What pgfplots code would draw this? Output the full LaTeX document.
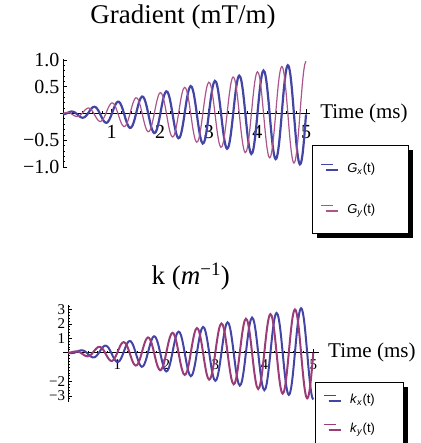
\documentclass[border=0pt]{standalone}
\usepackage{fontspec}
\setmainfont{Liberation Serif}
\setsansfont{Liberation Sans}
\usepackage{pgfplots}
\pgfplotsset{compat=1.18}
\usepackage{pgfplotstable}
\usetikzlibrary{shadows}

\definecolor{gxblue}{RGB}{68,68,165}
\definecolor{gypink}{RGB}{170,85,140}
\definecolor{kypink}{RGB}{155,60,120}

% Spiral readout: k-space trajectory (1/m) and gradient waveforms (mT/m) vs time (ms)
\pgfplotstableread{
t kx ky gx gy
0.000 0 0 -0.016 0
0.025 -0.02 0.01 -0.013 0.009
0.050 -0.03 0.02 -0.007 0.017
0.075 -0.03 0.04 0.003 0.021
0.100 -0.02 0.06 0.014 0.021
0.125 0 0.08 0.024 0.016
0.150 0.03 0.09 0.033 0.006
0.175 0.07 0.09 0.037 -0.008
0.200 0.11 0.08 0.035 -0.023
0.225 0.14 0.05 0.028 -0.037
0.250 0.16 0 0.016 -0.049
0.275 0.17 -0.06 -0.002 -0.056
0.300 0.16 -0.11 -0.022 -0.056
0.325 0.12 -0.17 -0.042 -0.050
0.350 0.07 -0.22 -0.060 -0.036
0.375 0 -0.24 -0.073 -0.016
0.400 -0.08 -0.25 -0.079 0.009
0.425 -0.16 -0.22 -0.076 0.036
0.450 -0.24 -0.17 -0.064 0.062
0.475 -0.29 -0.10 -0.043 0.083
0.500 -0.33 0 -0.016 0.098
0.525 -0.32 0.11 0.017 0.102
0.550 -0.29 0.21 0.051 0.096
0.575 -0.22 0.30 0.082 0.078
0.600 -0.12 0.37 0.107 0.051
0.625 0 0.41 0.122 0.016
0.650 0.13 0.40 0.125 -0.025
0.675 0.26 0.35 0.116 -0.065
0.700 0.37 0.27 0.093 -0.101
0.725 0.45 0.15 0.058 -0.130
0.750 0.49 0 0.016 -0.146
0.775 0.48 -0.16 -0.032 -0.149
0.800 0.42 -0.31 -0.079 -0.135
0.825 0.32 -0.43 -0.121 -0.107
0.850 0.17 -0.53 -0.153 -0.066
0.875 0 -0.57 -0.171 -0.016
0.900 -0.18 -0.56 -0.172 0.040
0.925 -0.35 -0.49 -0.155 0.094
0.950 -0.50 -0.36 -0.121 0.141
0.975 -0.60 -0.20 -0.073 0.176
1.000 -0.65 0 -0.016 0.195
1.025 -0.63 0.21 0.047 0.195
1.050 -0.55 0.40 0.108 0.175
1.075 -0.41 0.57 0.161 0.136
1.100 -0.22 0.68 0.199 0.081
1.125 0 0.73 0.219 0.016
1.150 0.23 0.71 0.218 -0.055
1.175 0.45 0.62 0.195 -0.122
1.200 0.63 0.46 0.150 -0.180
1.225 0.76 0.25 0.089 -0.222
1.250 0.81 0 0.016 -0.244
1.275 0.79 -0.26 -0.062 -0.241
1.300 0.68 -0.50 -0.137 -0.214
1.325 0.51 -0.70 -0.200 -0.164
1.350 0.27 -0.83 -0.246 -0.096
1.375 0 -0.89 -0.268 -0.016
1.400 -0.28 -0.87 -0.264 0.070
1.425 -0.54 -0.75 -0.234 0.151
1.450 -0.76 -0.55 -0.179 0.220
1.475 -0.91 -0.30 -0.104 0.269
1.500 -0.98 0 -0.016 0.293
1.525 -0.94 0.31 0.077 0.288
1.550 -0.82 0.59 0.165 0.254
1.575 -0.60 0.83 0.239 0.193
1.600 -0.32 0.99 0.292 0.111
1.625 0 1.06 0.317 0.016
1.650 0.33 1.02 0.311 -0.085
1.675 0.64 0.88 0.273 -0.180
1.700 0.89 0.65 0.207 -0.259
1.725 1.07 0.35 0.119 -0.315
1.750 1.14 0 0.016 -0.341
1.775 1.10 -0.36 -0.092 -0.334
1.800 0.95 -0.69 -0.194 -0.293
1.825 0.70 -0.96 -0.279 -0.222
1.850 0.37 -1.14 -0.338 -0.126
1.875 0 -1.22 -0.366 -0.016
1.900 -0.38 -1.17 -0.357 0.100
1.925 -0.74 -1.01 -0.313 0.208
1.950 -1.03 -0.75 -0.236 0.299
1.975 -1.22 -0.40 -0.134 0.362
2.000 -1.30 0 -0.016 0.390
2.025 -1.25 0.41 0.107 0.380
2.050 -1.08 0.78 0.223 0.333
2.075 -0.79 1.09 0.318 0.250
2.100 -0.42 1.30 0.385 0.141
2.125 0 1.38 0.414 0.016
2.150 0.43 1.33 0.404 -0.115
2.175 0.83 1.14 0.352 -0.237
2.200 1.16 0.84 0.265 -0.338
2.225 1.38 0.45 0.149 -0.408
2.250 1.46 0 0.016 -0.439
2.275 1.41 -0.46 -0.122 -0.427
2.300 1.21 -0.88 -0.251 -0.372
2.325 0.89 -1.22 -0.358 -0.279
2.350 0.47 -1.45 -0.431 -0.156
2.375 0 -1.54 -0.463 -0.016
2.400 -0.48 -1.48 -0.450 0.130
2.425 -0.93 -1.28 -0.392 0.266
2.450 -1.29 -0.94 -0.293 0.377
2.475 -1.53 -0.50 -0.164 0.454
2.500 -1.63 0 -0.016 0.488
2.525 -1.56 0.51 0.137 0.473
2.550 -1.34 0.97 0.280 0.411
2.575 -0.98 1.35 0.397 0.308
2.600 -0.52 1.61 0.477 0.171
2.625 0 1.71 0.512 0.016
2.650 0.53 1.64 0.496 -0.145
2.675 1.02 1.41 0.431 -0.294
2.700 1.42 1.03 0.322 -0.417
2.725 1.68 0.55 0.179 -0.501
2.750 1.79 0 0.016 -0.536
2.775 1.72 -0.56 -0.153 -0.520
2.800 1.47 -1.07 -0.308 -0.451
2.825 1.08 -1.49 -0.437 -0.336
2.850 0.57 -1.76 -0.524 -0.186
2.875 0 -1.87 -0.561 -0.016
2.900 -0.58 -1.79 -0.543 0.160
2.925 -1.12 -1.54 -0.471 0.323
2.950 -1.55 -1.13 -0.351 0.456
2.975 -1.84 -0.60 -0.194 0.547
3.000 -1.95 0 -0.016 0.585
3.025 -1.87 0.61 0.168 0.566
3.050 -1.60 1.17 0.337 0.490
3.075 -1.17 1.62 0.476 0.365
3.100 -0.62 1.92 0.570 0.202
3.125 0 2.03 0.609 0.016
3.150 0.63 1.95 0.589 -0.175
3.175 1.21 1.67 0.510 -0.351
3.200 1.68 1.22 0.379 -0.496
3.225 1.99 0.65 0.209 -0.593
3.250 2.11 0 0.016 -0.634
3.275 2.02 -0.66 -0.183 -0.612
3.300 1.74 -1.26 -0.366 -0.530
3.325 1.27 -1.75 -0.515 -0.394
3.350 0.67 -2.07 -0.617 -0.217
3.375 0 -2.19 -0.658 -0.016
3.400 -0.68 -2.10 -0.635 0.190
3.425 -1.31 -1.80 -0.549 0.380
3.450 -1.81 -1.32 -0.408 0.535
3.475 -2.15 -0.70 -0.224 0.640
3.500 -2.28 0 -0.016 0.683
3.525 -2.18 0.71 0.198 0.659
3.550 -1.87 1.36 0.394 0.569
3.575 -1.37 1.88 0.555 0.422
3.600 -0.72 2.23 0.663 0.232
3.625 0 2.36 0.707 0.016
3.650 0.73 2.26 0.682 -0.205
3.675 1.40 1.93 0.589 -0.409
3.700 1.95 1.41 0.437 -0.575
3.725 2.30 0.75 0.239 -0.686
3.750 2.44 0 0.016 -0.731
3.775 2.33 -0.76 -0.213 -0.705
3.800 2.00 -1.45 -0.423 -0.609
3.825 1.46 -2.01 -0.594 -0.451
3.850 0.77 -2.38 -0.709 -0.247
3.875 0 -2.52 -0.756 -0.016
3.900 -0.78 -2.41 -0.728 0.220
3.925 -1.50 -2.06 -0.628 0.437
3.950 -2.08 -1.51 -0.465 0.614
3.975 -2.46 -0.80 -0.254 0.732
4.000 -2.60 0 -0.016 0.780
4.025 -2.49 0.81 0.228 0.751
4.050 -2.13 1.55 0.452 0.648
4.075 -1.56 2.14 0.634 0.480
4.100 -0.82 2.53 0.756 0.262
4.125 0 2.68 0.804 0.016
4.150 0.83 2.57 0.775 -0.235
4.175 1.60 2.20 0.668 -0.466
4.200 2.21 1.60 0.494 -0.654
4.225 2.61 0.85 0.269 -0.779
4.250 2.76 0 0.016 -0.829
4.275 2.64 -0.86 -0.243 -0.798
4.300 2.26 -1.64 -0.480 -0.688
4.325 1.65 -2.27 -0.673 -0.508
4.350 0.87 -2.69 -0.802 -0.277
4.375 0 -2.84 -0.853 -0.016
4.400 -0.88 -2.72 -0.821 0.250
4.425 -1.69 -2.33 -0.707 0.495
4.450 -2.34 -1.70 -0.523 0.693
4.475 -2.77 -0.90 -0.284 0.825
4.500 -2.93 0 -0.016 0.878
4.525 -2.80 0.91 0.258 0.844
4.550 -2.39 1.74 0.509 0.727
4.575 -1.75 2.41 0.713 0.537
4.600 -0.92 2.84 0.848 0.292
4.625 0 3.01 0.902 0.016
4.650 0.93 2.87 0.867 -0.266
4.675 1.79 2.46 0.747 -0.523
4.700 2.47 1.80 0.551 -0.732
4.725 2.92 0.95 0.299 -0.872
4.750 3.09 0 0.016 -0.926
4.775 2.95 -0.96 -0.273 -0.890
4.800 2.52 -1.83 -0.538 -0.766
4.825 1.84 -2.54 -0.752 -0.566
4.850 0.97 -3.00 -0.895 -0.307
4.875 0 -3.17 -0.951 -0.016
4.900 -0.98 -3.03 -0.914 0.281
4.925 -1.88 -2.59 -0.786 0.552
4.950 -2.60 -1.89 -0.580 0.772
4.975 -3.08 -1.00 -0.315 0.918
5.000 -3.25 0 -0.016 0.975
}\spiral

\pgfplotsset{
  crossaxes/.style={
    axis lines=middle,
    axis line style={-, line width=0.8pt},
    tick style={black, line width=0.7pt},
    major tick length=4pt,
    minor tick length=2pt,
    tick align=inside,
    clip=false,
    legend cell align=left,
    legend image code/.code={\draw[##1, line width=1pt, solid] (0pt,4pt) -- (12pt,4pt);},
  },
}

\begin{document}
\begin{tikzpicture}

% Gradient waveforms
\begin{axis}[crossaxes,
  at={(63pt,-113.5pt)}, anchor=origin,
  x=48.6pt, y=53.5pt,
  xmin=-0.06, xmax=5.08, ymin=-1.01, ymax=1.01,
  xtick={1,2,3,4,5}, xticklabels={1,2,3,4,5},
  minor xtick={0,0.2,...,5},
  ytick={-1,-0.5,0.5,1}, yticklabels={−1.0,−0.5,0.5,1.0},
  minor ytick={-1,-0.9,...,1},
  tick label style={font=\fontsize{20}{24}\selectfont},
  xticklabel style={yshift=-8pt},
  xlabel={Time (ms)},
  xlabel style={at={(axis cs:5.29,0)}, anchor=west, inner sep=0pt,
    font=\fontsize{21}{25}\selectfont},
  title={Gradient (mT/m)},
  title style={at={(axis cs:2.47,1.69)}, anchor=center, inner sep=0pt,
    font=\fontsize{27}{32}\selectfont},
  legend style={at={(axis cs:5.123,-0.589)}, anchor=north west,
    draw=black, line width=0.8pt, fill=white,
    inner xsep=8pt, inner ysep=3pt,
    font=\sffamily\fontsize{13}{15}\selectfont,
    drop shadow={shadow xshift=5pt, shadow yshift=-5pt, fill=black, opacity=1},
    nodes={text width=53pt, minimum height=41pt, inner sep=0pt},
    /tikz/every odd column/.append style={column sep=14pt}},
]
\addplot[gxblue, line width=2.2pt, smooth] table[x=t, y=gx]{\spiral};
\addlegendentry{\textit{G}\textsubscript{\textit{x}}(t)}
\addplot[gypink, line width=1.2pt, smooth] table[x=t, y=gy]{\spiral};
\addlegendentry{\textit{G}\textsubscript{\textit{y}}(t)}
\end{axis}

% k-space trajectory
\begin{axis}[crossaxes,
  at={(68.3pt,-352.7pt)}, anchor=origin,
  x=49pt, y=14.4pt,
  xmin=-0.1, xmax=5.12, ymin=-3.4, ymax=3.3,
  xtick={1,2,3,4,5}, xticklabels={1,2,3,4,5},
  minor xtick={0,0.2,...,5},
  ytick={-3,-2,1,2,3}, yticklabels={−3,−2,1,2,3},
  minor ytick={-3.2,-3,...,3.2},
  tick label style={font=\fontsize{15}{17}\selectfont, inner sep=0.5pt},
  xticklabel style={yshift=-6pt},
  yticklabel style={xshift=-2.5pt},
  xlabel={Time (ms)},
  xlabel style={at={(axis cs:5.3,0)}, anchor=west, inner sep=0pt,
    font=\fontsize{21}{25}\selectfont},
  title={k (\textit{m}\textsuperscript{−1})},
  title style={at={(axis cs:2.50,4.84)}, anchor=center, inner sep=0pt,
    font=\fontsize{27}{32}\selectfont},
  legend style={at={(axis cs:5.03,-2.03)}, anchor=north west,
    draw=black, line width=0.8pt, fill=white,
    inner xsep=8pt, inner ysep=3pt,
    font=\sffamily\fontsize{13}{15}\selectfont,
    drop shadow={shadow xshift=5pt, shadow yshift=-5pt, fill=black, opacity=1},
    nodes={text width=45pt, minimum height=29pt, inner sep=0pt},
    /tikz/every odd column/.append style={column sep=14pt}},
]
\addplot[gxblue, line width=2pt, smooth] table[x=t, y=kx]{\spiral};
\addlegendentry{\textit{k}\textsubscript{\textit{x}}(t)}
\addplot[kypink, line width=2pt, smooth] table[x=t, y=ky]{\spiral};
\addlegendentry{\textit{k}\textsubscript{\textit{y}}(t)}
\end{axis}

% the page is exactly the drawing area
\pgfresetboundingbox
\path[use as bounding box] (0pt,0pt) rectangle (420pt,-443pt);
\end{tikzpicture}
\end{document}
